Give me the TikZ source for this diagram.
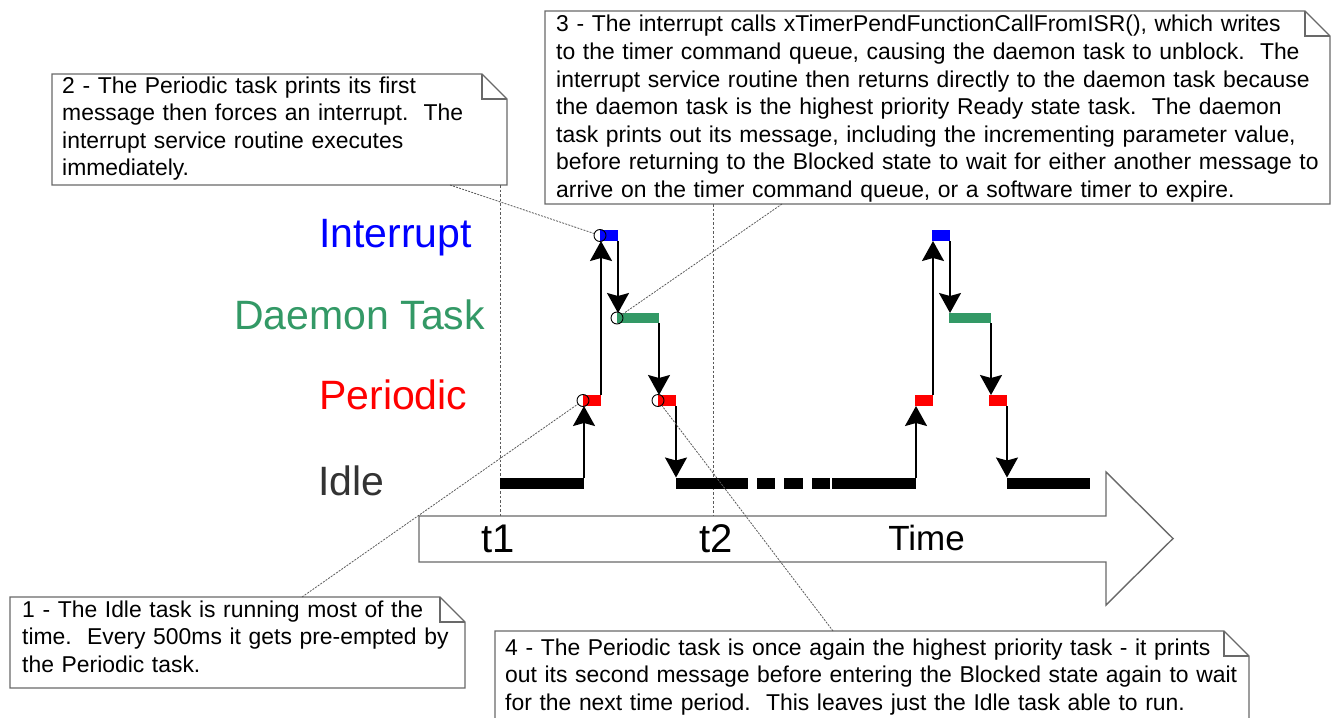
\documentclass[tikz,border=0pt]{standalone}
\usepackage{fontspec}
\setmainfont{Liberation Sans}
\usetikzlibrary{arrows.meta}
\definecolor{intblue}{RGB}{0,0,255}
\definecolor{daegreen}{RGB}{51,153,102}
\definecolor{perred}{RGB}{255,0,0}
\definecolor{idlegray}{RGB}{51,51,51}
\definecolor{edgegray}{RGB}{105,105,105}
\definecolor{dotgray}{RGB}{90,90,90}
\begin{document}
\begin{tikzpicture}[x=1pt,y=-1pt,
  bar/.style={rectangle,inner sep=0pt,outer sep=0pt,minimum height=11pt,minimum width=#1,anchor=west},
  conn/.style={draw=black,line width=1.6pt,-{Stealth[length=20pt,width=22pt,inset=3pt]}},
  circ/.style={circle,draw=black,line width=0.9pt,inner sep=0pt,minimum size=12pt},
  notebox/.style={rectangle,draw=none,fill=white,inner sep=0pt,outer sep=0pt},
  noteline/.style={draw=edgegray,line width=1.3pt,line join=miter},
  notetext/.style={inner sep=0pt,text width=780pt,align=left,font=\fontsize{22.9}{27.6}\selectfont},
  ptr/.style={draw=dotgray,line width=0.8pt,dash pattern=on 2pt off 1.2pt},
  vdot/.style={draw=dotgray,line width=0.8pt,dash pattern=on 2.5pt off 2pt},
  lvl/.style={inner sep=0pt,anchor=base west,font=\fontsize{41}{48}\selectfont},
  tlbl/.style={inner sep=0pt,anchor=base,font=\fontsize{40}{46}\selectfont},
  timearrow/.style={draw=edgegray,line width=1.4pt,line join=miter}]
\useasboundingbox (0,0) rectangle (1332,717);

% ---------- callout boxes ----------
\newcommand\dogear[1]{%
  \draw[noteline] (#1.north west) -- ([xshift=-25pt]#1.north east) -- ([yshift=-25pt]#1.north east)
     -- (#1.south east) -- (#1.south west) -- cycle;
  \draw[noteline] ([xshift=-25pt]#1.north east) -- ([xshift=-25pt,yshift=-25pt]#1.north east)
     -- ([yshift=-25pt]#1.north east);}

\node[notebox,minimum width=455pt,minimum height=91pt] (box1) at (237.5,642.5) {};
\dogear{box1}
\node[notetext,anchor=base west] (txt1) at ([xshift=12pt,yshift=-20pt]box1.north west)
  {1 - The Idle task is running most of the\\
   time.\ \ Every 500ms it gets pre-empted by\\
   the Periodic task.};

\node[notebox,minimum width=455pt,minimum height=111pt] (box2) at (279.5,129.5) {};
\dogear{box2}
\node[notetext,anchor=base west] (txt2) at ([xshift=10pt,yshift=-19pt]box2.north west)
  {2 - The Periodic task prints its first\\
   message then forces an interrupt.\ \ The\\
   interrupt service routine executes\\
   immediately.};

\node[notebox,minimum width=785pt,minimum height=193pt] (box3) at (937.5,107.5) {};
\dogear{box3}
\node[notetext,anchor=base west] (txt3) at ([xshift=11pt,yshift=-21pt]box3.north west)
  {3 - The interrupt calls xTimerPendFunctionCallFromISR(), which writes\\
   to the timer command queue, causing the daemon task to unblock.\ \ The\\
   interrupt service routine then returns directly to the daemon task because\\
   the daemon task is the highest priority Ready state task.\ \ The daemon\\
   task prints out its message, including the incrementing parameter value,\\
   before returning to the Blocked state to wait for either another message to\\
   arrive on the timer command queue, or a software timer to expire.};

\node[notebox,minimum width=754pt,minimum height=95pt] (box4) at (872,678.5) {};
\dogear{box4}
\node[notetext,anchor=base west] (txt4) at ([xshift=10pt,yshift=-24pt]box4.north west)
  {4 - The Periodic task is once again the highest priority task - it prints\\
   out its second message before entering the Blocked state again to wait\\
   for the next time period.\ \ This leaves just the Idle task able to run.};

% ---------- time arrow ----------
\draw[timearrow] (419,516) -- (1106,516) -- (1106,472) -- (1173,538.5) -- (1106,605)
   -- (1106,562) -- (419,562) -- cycle;
\node[tlbl] (t1lbl) at (498.5,552) {t1};
\node[tlbl] (t2lbl) at (716,552) {t2};
\node[inner sep=0pt,anchor=base,font=\fontsize{35}{40}\selectfont] (timelbl) at (926.5,550) {Time};

% ---------- dotted time marks ----------
\coordinate (t1top) at (500,185);
\coordinate (t1bot) at (500,516);
\coordinate (t2top) at (713,204);
\coordinate (t2bot) at (713,516);
\draw[vdot] (t1top) -- (t1bot);
\draw[vdot] (t2top) -- (t2bot);

% ---------- level labels ----------
\node[lvl,text=intblue]  (lint) at (319,247) {Interrupt};
\node[lvl,text=daegreen] (ldae) at (234,329) {Daemon Task};
\node[lvl,text=perred]   (lper) at (319,409) {Periodic};
\node[lvl,text=idlegray] (lidl) at (318,495) {Idle};

% ---------- bars ----------
\node[bar=84,fill=black]    (idle1) at (500,483) {};
\node[bar=18,fill=perred]   (red1)  at (583,400.5) {};
\node[bar=18,fill=intblue]  (int1)  at (600,235.5) {};
\node[bar=42,fill=daegreen,minimum height=10pt] (dae1) at (617,318) {};
\node[bar=18,fill=perred]   (red2)  at (658,400.5) {};
\node[bar=72,fill=black]    (idle2) at (676,483) {};
\node[bar=18,fill=black]    (dash1) at (757,483) {};
\node[bar=19,fill=black]    (dash2) at (784,483) {};
\node[bar=18,fill=black]    (dash3) at (812,483) {};
\node[bar=84,fill=black]    (idle3) at (832,483) {};
\node[bar=18,fill=perred]   (red3)  at (915,400.5) {};
\node[bar=18,fill=intblue]  (int2)  at (932,235.5) {};
\node[bar=42,fill=daegreen,minimum height=10pt] (dae2) at (949,318) {};
\node[bar=18,fill=perred]   (red4)  at (989,400.5) {};
\node[bar=83,fill=black]    (idle4) at (1007,483) {};

% ---------- transitions ----------
\draw[conn] (idle1.north east) -- (idle1.north east |- red1.south);
\draw[conn] (red1.north east) -- (red1.north east |- int1.south);
\draw[conn] (int1.south east) -- (int1.south east |- dae1.north);
\draw[conn] (dae1.south east) -- (dae1.south east |- red2.north);
\draw[conn] (red2.south east) -- (red2.south east |- idle2.north);

\draw[conn] (idle3.north east) -- (idle3.north east |- red3.south);
\draw[conn] (red3.north east) -- (red3.north east |- int2.south);
\draw[conn] (int2.south east) -- (int2.south east |- dae2.north);
\draw[conn] (dae2.south east) -- (dae2.south east |- red4.north);
\draw[conn] (red4.south east) -- (red4.south east |- idle4.north);

% ---------- circles and pointers ----------
\node[circ] (cper1) at (red1.west) {};
\node[circ] (cint1) at (int1.west) {};
\node[circ] (cdae1) at (dae1.west) {};
\node[circ] (cper2) at (red2.west) {};

\coordinate (p1) at (302,597);
\coordinate (p2) at (450,185);
\coordinate (p3) at (782,204);
\coordinate (p4) at (833,631);
\draw[ptr] (p1) -- (cper1);
\draw[ptr] (p2) -- (cint1);
\draw[ptr] (p3) -- (cdae1);
\draw[ptr] (p4) -- (cper2);
\end{tikzpicture}
\end{document}
